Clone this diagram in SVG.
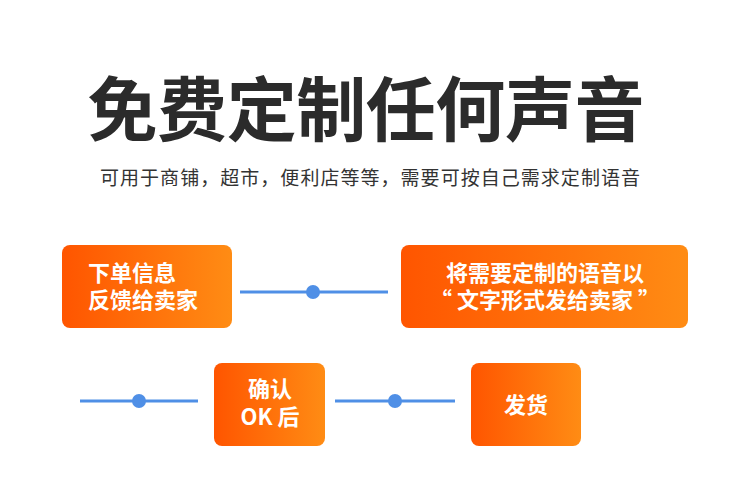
<svg xmlns="http://www.w3.org/2000/svg" width="750" height="503" viewBox="0 0 750 503">
<defs>
<linearGradient id="g" x1="0" y1="0" x2="1" y2="0"><stop offset="0" stop-color="#ff5500"/><stop offset="1" stop-color="#ff8c14"/></linearGradient>
<style>
.box{fill:url(#g)}
.t{font-family:"Noto Sans CJK SC","Liberation Sans",sans-serif;fill:#fff;font-weight:bold;font-size:22px}
.ln{stroke:#4f8fe6;stroke-width:3}
.dot{fill:#4f8fe6}
</style>
</defs>
<rect width="750" height="503" fill="#fff"/>
<text x="366" y="136" text-anchor="middle" font-family="Noto Sans CJK SC,sans-serif" font-weight="bold" font-size="70" fill="#2b2b2b" textLength="557">免费定制任何声音</text>
<text x="370" y="185" text-anchor="middle" font-family="Noto Sans CJK SC,sans-serif" font-size="19" fill="#333" textLength="540">可用于商铺，超市，便利店等等，需要可按自己需求定制语音</text>
<g id="connectors">
<line class="ln" x1="240" y1="292" x2="388" y2="292"/><circle class="dot" cx="313" cy="292" r="7"/>
<line class="ln" x1="80" y1="401" x2="198" y2="401"/><circle class="dot" cx="139" cy="401" r="7"/>
<line class="ln" x1="335" y1="401" x2="455" y2="401"/><circle class="dot" cx="395" cy="401" r="7"/>
</g>
<g id="n1"><rect class="box" x="62" y="245" width="170" height="83" rx="8"/><text class="t" x="88" y="281">下单信息</text><text class="t" x="88" y="308">反馈给卖家</text></g>
<g id="n2"><rect class="box" x="401" y="245" width="287" height="83" rx="8"/><text class="t" x="545" y="281" text-anchor="middle">将需要定制的语音以</text><text class="t" x="545" y="308" text-anchor="middle">“ 文字形式发给卖家 ”</text></g>
<g id="n3"><rect class="box" x="214" y="363" width="111" height="83" rx="8"/><text class="t" x="270" y="397" text-anchor="middle">确认</text><text class="t" x="270" y="425" text-anchor="middle">OK 后</text></g>
<g id="n4"><rect class="box" x="471" y="363" width="110" height="83" rx="8"/><text class="t" x="526" y="413" text-anchor="middle">发货</text></g>
</svg>
